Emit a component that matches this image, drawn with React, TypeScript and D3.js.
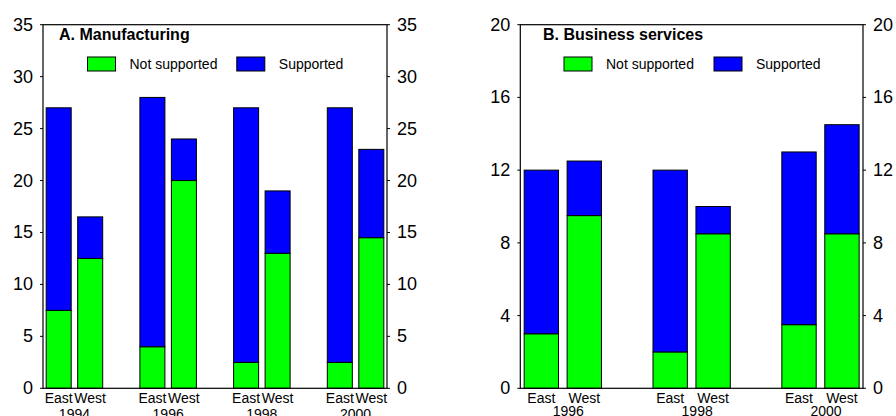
import React from "react";
import * as d3 from "d3";

// Panel A: manufacturing
const mfgYears = ["1994", "1996", "1998", "2000"];
const mfgEastNotSupported = [7.5, 4, 2.5, 2.5];
const mfgEastSupported = [19.5, 24, 24.5, 24.5];
const mfgWestNotSupported = [12.5, 20, 13, 14.5];
const mfgWestSupported = [4, 4, 6, 8.5];
const mfgTicks = [0, 5, 10, 15, 20, 25, 30, 35];

// Panel B: business services
const bizYears = ["1996", "1998", "2000"];
const bizEastNotSupported = [3, 2, 3.5];
const bizEastSupported = [9, 10, 9.5];
const bizWestNotSupported = [9.5, 8.5, 8.5];
const bizWestSupported = [3, 1.5, 6];
const bizTicks = [0, 4, 8, 12, 16, 20];

const regions = ["East", "West"];
const seriesKeys = ["notSupported", "supported"];
const seriesLabels = ["Not supported", "Supported"];
const seriesColors = ["#00ff00", "#0000ff"];

const FONT = "'Liberation Sans', Arial, Helvetica, sans-serif";

type Row = { year: string; region: string; notSupported: number; supported: number };

function buildRows(years: string[], eN: number[], eS: number[], wN: number[], wS: number[]): Row[] {
  const rows: Row[] = [];
  years.forEach((y, i) => {
    rows.push({ year: y, region: "East", notSupported: eN[i], supported: eS[i] });
    rows.push({ year: y, region: "West", notSupported: wN[i], supported: wS[i] });
  });
  return rows;
}

type PanelProps = {
  title: string;
  rows: Row[];
  years: string[];
  ticks: number[];
  yMax: number;
  left: number;
  right: number;
  top: number;
  bottom: number;
  groupPadInner: number;
  groupPadOuter: number;
  barPad: number;
  titleX: number;
  legendX: number;
  legendGap: number;
  yearDx: number;
  yearY: number;
};

function Panel(p: PanelProps) {
  const x = d3
    .scaleBand<string>()
    .domain(p.years)
    .range([p.left, p.right])
    .paddingInner(p.groupPadInner)
    .paddingOuter(p.groupPadOuter);
  const xr = d3
    .scaleBand<string>()
    .domain(regions)
    .range([0, x.bandwidth()])
    .paddingInner(p.barPad)
    .paddingOuter(0);
  const y = d3.scaleLinear().domain([0, p.yMax]).range([p.bottom, p.top]);

  const stacked = d3.stack<Row>().keys(seriesKeys)(p.rows);

  return (
    <g>
      {stacked.map((layer, li) =>
        layer.map((d, i) => {
          const row = p.rows[i];
          const bx = (x(row.year) as number) + (xr(row.region) as number);
          return (
            <rect
              key={`${li}-${i}`}
              x={bx}
              y={y(d[1])}
              width={xr.bandwidth()}
              height={y(d[0]) - y(d[1])}
              fill={seriesColors[li]}
              stroke="#000"
              strokeWidth={1}
            />
          );
        })
      )}
      <rect
        x={p.left}
        y={p.top}
        width={p.right - p.left}
        height={p.bottom - p.top}
        fill="none"
        stroke="#000"
        strokeWidth={1.2}
      />
      {p.ticks.map((t) => (
        <g key={t}>
          <line x1={p.left - 3} x2={p.left} y1={y(t)} y2={y(t)} stroke="#000" />
          <line x1={p.right} x2={p.right + 3} y1={y(t)} y2={y(t)} stroke="#000" />
          <text
            x={p.left - 10}
            y={y(t)}
            textAnchor="end"
            dominantBaseline="central"
            fontSize={18}
            fontFamily={FONT}
          >
            {t}
          </text>
          <text
            x={p.right + 10}
            y={y(t)}
            textAnchor="start"
            dominantBaseline="central"
            fontSize={18}
            fontFamily={FONT}
          >
            {t}
          </text>
        </g>
      ))}
      {p.years.map((yr) => {
        const gx = x(yr) as number;
        return (
          <g key={yr}>
            {regions.map((r) => (
              <text
                key={r}
                x={gx + (xr(r) as number) + xr.bandwidth() / 2}
                y={p.bottom + 15}
                textAnchor="middle"
                fontSize={14}
                fontFamily={FONT}
              >
                {r}
              </text>
            ))}
            <text
              x={gx + x.bandwidth() / 2 + p.yearDx}
              y={p.yearY}
              textAnchor="middle"
              fontSize={14}
              fontFamily={FONT}
            >
              {yr}
            </text>
          </g>
        );
      })}
      <text x={p.titleX} y={40} fontSize={16} fontWeight="bold" fontFamily={FONT}>
        {p.title}
      </text>
      {seriesLabels.map((lab, i) => {
        const lx = p.legendX + i * p.legendGap;
        return (
          <g key={lab}>
            <rect x={lx} y={57} width={28} height={14} fill={seriesColors[i]} stroke="#000" strokeWidth={1} />
            <text x={lx + 42} y={64} dominantBaseline="central" fontSize={14} fontFamily={FONT}>
              {lab}
            </text>
          </g>
        );
      })}
    </g>
  );
}

export default function App() {
  const mfgRows = buildRows(mfgYears, mfgEastNotSupported, mfgEastSupported, mfgWestNotSupported, mfgWestSupported);
  const bizRows = buildRows(bizYears, bizEastNotSupported, bizEastSupported, bizWestNotSupported, bizWestSupported);
  return (
    <svg
      width={896}
      height={416}
      style={{ position: "absolute", left: 0, top: 0, background: "#fff" }}
    >
      <Panel
        title="A. Manufacturing"
        rows={mfgRows}
        years={mfgYears}
        ticks={mfgTicks}
        yMax={35}
        left={43}
        right={387}
        top={24.7}
        bottom={388.3}
        groupPadInner={0.397}
        groupPadOuter={0.034}
        barPad={0.206}
        titleX={59}
        legendX={87.5}
        legendGap={149.3}
        yearDx={0}
        yearY={418.5}
      />
      <Panel
        title="B. Business services"
        rows={bizRows}
        years={bizYears}
        ticks={bizTicks}
        yMax={20}
        left={520.3}
        right={863}
        top={24.7}
        bottom={388.3}
        groupPadInner={0.4}
        groupPadOuter={0.03}
        barPad={0.2}
        titleX={543}
        legendX={564}
        legendGap={150}
        yearDx={5.5}
        yearY={416}
      />
    </svg>
  );
}
